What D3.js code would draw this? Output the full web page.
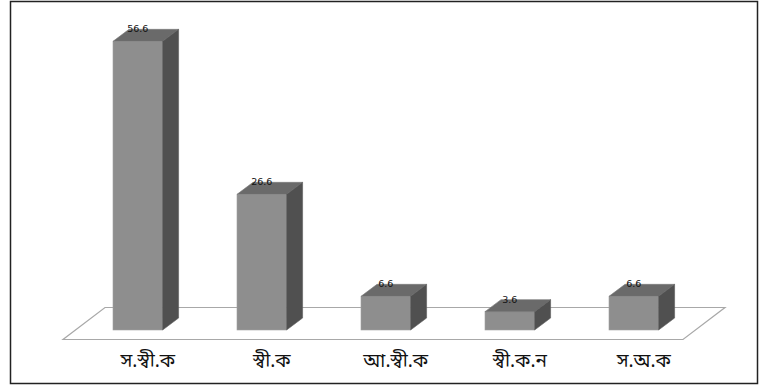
<!DOCTYPE html>
<html>
<head>
<meta charset="utf-8">
<script src="https://cdn.jsdelivr.net/npm/d3@7"></script>
<style>
  html, body { margin: 0; padding: 0; background: #fff; }
  svg { display: block; }
</style>
</head>
<body>
<svg id="chart" width="767" height="390"></svg>
<script>
// Category labels and values
const categories = ["স.স্বী.ক", "স্বী.ক", "আ.স্বী.ক", "স্বী.ক.ন", "স.অ.ক"];
const values = [56.6, 26.6, 6.6, 3.6, 6.6];

const svg = d3.select("#chart");

// Outer frame
svg.append("rect")
  .attr("x", 10.5).attr("y", 1.5)
  .attr("width", 747).attr("height", 382)
  .attr("fill", "#fff")
  .attr("stroke", "#222").attr("stroke-width", 1.5);

const x = d3.scaleBand()
  .domain(categories)
  .range([75.8, 695.8])
  .paddingInner(0.6)
  .paddingOuter(0.3);

const baseY = 330;
const y = d3.scaleLinear().domain([0, 60]).range([baseY, baseY - 306]);

// 3D depth offsets
const dx = 16, dy = -12;

// Floor plane
const floor = [[63, 339.5], [683, 339.5], [725, 307.5], [105, 307.5]];
svg.append("polygon")
  .attr("points", floor.map(p => p.join(",")).join(" "))
  .attr("fill", "#fff")
  .attr("stroke", "#a8a8a8")
  .attr("stroke-width", 1.2);

const bars = svg.append("g").selectAll("g")
  .data(categories.map((c, i) => ({ c, v: values[i] })))
  .join("g");

// Front face
bars.append("rect")
  .attr("x", d => x(d.c))
  .attr("y", d => y(d.v))
  .attr("width", x.bandwidth())
  .attr("height", d => y(0) - y(d.v))
  .attr("fill", "#8e8e8e")
  .attr("stroke", "#a0a0a0").attr("stroke-width", 0.6);

// Top face
bars.append("polygon")
  .attr("points", d => {
    const x0 = x(d.c), x1 = x0 + x.bandwidth(), yt = y(d.v);
    return [[x0, yt], [x1, yt], [x1 + dx, yt + dy], [x0 + dx, yt + dy]].map(p => p.join(",")).join(" ");
  })
  .attr("fill", "#6a6a6a")
  .attr("stroke", "#7a7a7a").attr("stroke-width", 0.6);

// Side face
bars.append("polygon")
  .attr("points", d => {
    const x1 = x(d.c) + x.bandwidth(), yt = y(d.v), yb = y(0);
    return [[x1, yt], [x1 + dx, yt + dy], [x1 + dx, yb + dy], [x1, yb]].map(p => p.join(",")).join(" ");
  })
  .attr("fill", "#505050")
  .attr("stroke", "#5e5e5e").attr("stroke-width", 0.6);

// Value labels
bars.append("text")
  .attr("x", d => x(d.c) + x.bandwidth() / 2)
  .attr("y", d => y(d.v) - 9)
  .attr("text-anchor", "middle")
  .attr("font-family", "DejaVu Sans, sans-serif")
  .attr("font-size", 9.5)
  .attr("fill", "#111")
  .text(d => d.v.toFixed(1));

// Category labels
svg.append("g").selectAll("text")
  .data(categories)
  .join("text")
  .attr("x", d => x(d) + x.bandwidth() / 2 + 10)
  .attr("y", 367)
  .attr("text-anchor", "middle")
  .attr("font-family", "'Noto Sans Bengali', 'Lohit Bengali', 'Noto Sans', sans-serif")
  .attr("font-size", 19)
  .attr("fill", "#111")
  .text(d => d);
</script>
</body>
</html>
